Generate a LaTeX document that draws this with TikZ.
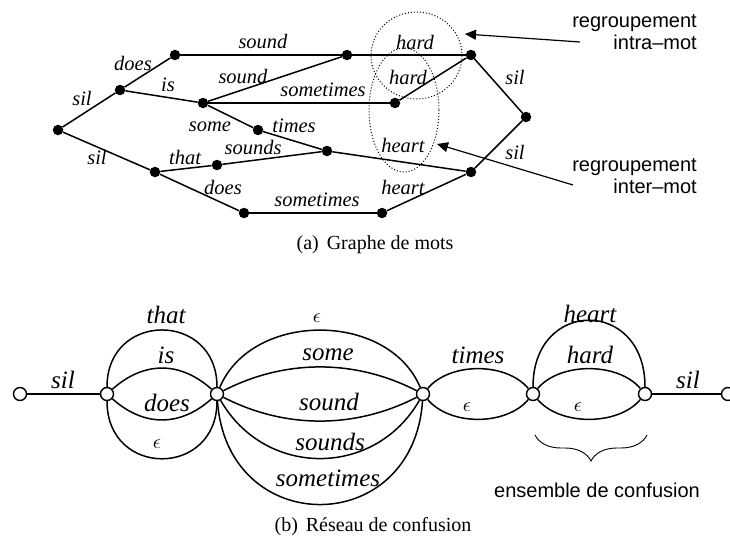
\documentclass[tikz,border=0pt]{standalone}
\usepackage{fontspec}
\setmainfont{Liberation Serif}
\newfontfamily\hv{Liberation Sans}
\usetikzlibrary{arrows.meta,decorations.pathreplacing}
\newcommand{\epsmark}{\scalebox{2}{$\epsilon$}}
\tikzset{
  lbl/.style={font=\fontsize{20.5}{24}\selectfont\itshape, inner sep=0pt},
  blbl/.style={font=\fontsize{25}{30}\selectfont\itshape, inner sep=0pt},
  eps/.style={inner sep=0pt},
  sans/.style={font=\fontsize{20}{22}\selectfont\hv, inner sep=0pt},
  capt/.style={font=\fontsize{20}{24}\selectfont, inner sep=0pt},
  dot/.style={circle, fill=black, inner sep=0pt, minimum size=10.5pt},
  onode/.style={circle, draw, fill=white, inner sep=0pt, minimum size=13pt, line width=1.4pt},
  edge/.style={line width=1.5pt},
  group/.style={dotted, line width=1pt},
  pointer/.style={line width=1.2pt, -{Triangle[length=11pt,width=10pt]}},
}
\begin{document}
\begin{tikzpicture}[x=1pt,y=-1pt]
\useasboundingbox (0,0) rectangle (730,543);
% ---------- (a) word graph ----------
\node[dot] (n0) at (58,130) {};
\node[dot] (n1) at (120,90) {};
\node[dot] (n2) at (175,55) {};
\node[dot] (n3) at (203,103) {};
\node[dot] (n4) at (258,130) {};
\node[dot] (n5) at (155,172) {};
\node[dot] (n6) at (217,165) {};
\node[dot] (n7) at (244,213) {};
\node[dot] (n8) at (347,55) {};
\node[dot] (n9) at (471,55) {};
\node[dot] (n10) at (395,103) {};
\node[dot] (n11) at (327,151) {};
\node[dot] (n12) at (471,172) {};
\node[dot] (n13) at (382,213) {};
\node[dot] (n14) at (526,117) {};
\draw[edge] (n0) -- (n1);
\draw[edge] (n0) -- (n5);
\draw[edge] (n1) -- (n2);
\draw[edge] (n1) -- (n3);
\draw[edge] (n2) -- (n8);
\draw[edge] (n3) -- (n8);
\draw[edge] (n3) -- (n10);
\draw[edge] (n3) -- (n4);
\draw[edge] (n4) -- (n11);
\draw[edge] (n5) -- (n6);
\draw[edge] (n5) -- (n7);
\draw[edge] (n6) -- (n11);
\draw[edge] (n7) -- (n13);
\draw[edge] (n8) -- (n9);
\draw[edge] (n10) -- (n9);
\draw[edge] (n11) -- (n12);
\draw[edge] (n13) -- (n12);
\draw[edge] (n9) -- (n14);
\draw[edge] (n12) -- (n14);
\node[lbl] (la1) at (82,98) {sil};
\node[lbl] (la2) at (97,157) {sil};
\node[lbl] (la3) at (133,63) {does};
\node[lbl] (la4) at (168,85) {is};
\node[lbl] (la5) at (263,42) {sound};
\node[lbl] (la6) at (243,77) {sound};
\node[lbl] (la7) at (323,90) {sometimes};
\node[lbl] (la8) at (210,127) {some};
\node[lbl] (la9) at (294,126) {times};
\node[lbl] (la10) at (185,157) {that};
\node[lbl] (la11) at (253,148) {sounds};
\node[lbl] (la12) at (223,187) {does};
\node[lbl] (la13) at (317,200) {sometimes};
\node[lbl] (la14) at (415,42) {hard};
\node[lbl] (la15) at (408,77) {hard};
\node[lbl] (la16) at (403,145) {heart};
\node[lbl] (la17) at (403,187) {heart};
\node[lbl] (la18) at (515,77) {sil};
\node[lbl] (la19) at (515,152) {sil};
\draw[group] (416.5,55.5) ellipse [x radius=45.5, y radius=43.5];
\draw[group] (404,110) ellipse [x radius=35, y radius=62];
\node[sans, align=right, anchor=east] (intra) at (697,32.5) {regroupement\\intra–mot};
\node[sans, align=right, anchor=east] (inter) at (697,176.5) {regroupement\\inter–mot};
\coordinate (t1) at (580,42);
\coordinate (h1) at (465,34);
\coordinate (t2) at (573,185);
\coordinate (h2) at (437,144);
\draw[pointer] (t1) -- (h1);
\draw[pointer] (t2) -- (h2);
\node[capt] (capa) at (375,245) {(a)\hspace{0.4em}Graphe de mots};
% ---------- (b) confusion network ----------
\node[onode] (A) at (20,394) {};
\node[onode] (B) at (107,394) {};
\node[onode] (C) at (217,394) {};
\node[onode] (D) at (423,394) {};
\node[onode] (E) at (533,394) {};
\node[onode] (F) at (645,394) {};
\node[onode] (G) at (728,394) {};
\draw[edge] (A) -- (B);
\draw[edge] (F) -- (G);
% B -> C
\draw[edge] (B) .. controls +(0,-83) and +(0,-83) .. (C);
\draw[edge] (B) .. controls +(37,-33) and +(-37,-33) .. (C);
\draw[edge] (B) .. controls +(37,33) and +(-37,33) .. (C);
\draw[edge] (B) .. controls +(0,84) and +(0,84) .. (C);
% C -> D
\draw[edge] (C) .. controls +(35,-83) and +(-35,-83) .. (D);
\draw[edge] (C) .. controls +(68,-35) and +(-68,-35) .. (D);
\draw[edge] (C) .. controls +(68,35) and +(-68,35) .. (D);
\draw[edge] (C) .. controls +(48,84) and +(-48,84) .. (D);
\draw[edge] (C) .. controls +(10,145) and +(-10,145) .. (D);
% D -> E
\draw[edge] (D) .. controls +(27,-32) and +(-27,-32) .. (E);
\draw[edge] (D) .. controls +(27,32) and +(-27,32) .. (E);
% E -> F
\draw[edge] (E) .. controls +(0,-96) and +(0,-96) .. (F);
\draw[edge] (E) .. controls +(27,-32) and +(-27,-32) .. (F);
\draw[edge] (E) .. controls +(27,32) and +(-27,32) .. (F);
\node[blbl] (lb1) at (63,380) {sil};
\node[blbl] (lb2) at (166,315) {that};
\node[blbl] (lb3) at (166,355) {is};
\node[blbl] (lb4) at (167,403) {does};
\node[eps] (lb5) at (157,444) {\epsmark};
\node[eps] (lb6) at (317,318) {\epsmark};
\node[blbl] (lb7) at (328,355) {some};
\node[blbl] (lb8) at (329,402) {sound};
\node[blbl] (lb9) at (330,442) {sounds};
\node[blbl] (lb10) at (328,478) {sometimes};
\node[blbl] (lb11) at (478,355) {times};
\node[eps] (lb12) at (467,407) {\epsmark};
\node[blbl] (lb13) at (590,314) {heart};
\node[blbl] (lb14) at (590,355) {hard};
\node[eps] (lb15) at (578,407) {\epsmark};
\node[blbl] (lb16) at (688,380) {sil};
\coordinate (br1) at (535,435);
\coordinate (br2) at (647,435);
\draw[line width=0.9pt, decorate, decoration={brace, amplitude=26pt, mirror}] (br1) -- (br2);
\node[sans] (conf) at (597,490) {ensemble de confusion};
\node[capt] (capb) at (373,527) {(b)\hspace{0.4em}Réseau de confusion};
\end{tikzpicture}
\end{document}
